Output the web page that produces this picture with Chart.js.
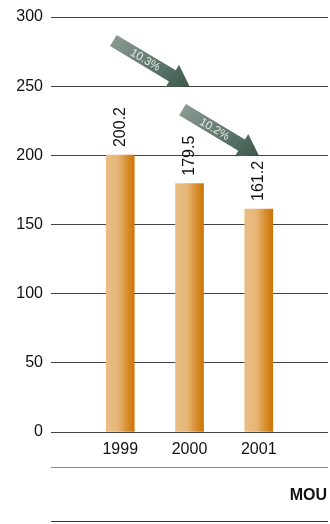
<!DOCTYPE html>
<html>
<head>
<meta charset="utf-8">
<script src="https://cdn.jsdelivr.net/npm/chart.js@4"></script>
<style>
  html, body { margin: 0; padding: 0; background: #fff; }
  #wrap { width: 330px; height: 524px; }
</style>
</head>
<body>
<div id="wrap"><canvas id="mouChart" width="330" height="524"></canvas></div>
<script>
// ── DATA ──────────────────────────────────────────────────────
const years   = ["1999", "2000", "2001"];
const mou     = [200.2, 179.5, 161.2];
const yTicks  = [0, 50, 100, 150, 200, 250, 300];
// drop arrows: from one year to the next, label = % decline
const dropFrom  = [0, 1];
const dropLevel = [250, 200];
const dropText  = ["10.3%", "10.2%"];
const unitLabel = "MOU";

const FONT = "Arial, 'Liberation Sans', sans-serif";

// pad the category axis with an empty slot on each side
const labels = ["", ...years, ""];
const values = [null, ...mou, null];

// light-to-dark orange gradient across each bar
function barFill(ctx) {
  const chart = ctx.chart;
  if (!chart.chartArea || ctx.dataIndex === undefined) return "#dd9a4a";
  const cx = chart.scales.x.getPixelForValue(ctx.dataIndex);
  const g = chart.ctx.createLinearGradient(cx - 14, 0, cx + 14, 0);
  g.addColorStop(0,    "#e9bd83");
  g.addColorStop(0.4,  "#e7b779");
  g.addColorStop(0.75, "#d88d2f");
  g.addColorStop(1,    "#cd7506");
  return g;
}

// rotated value labels above the bars
const valueLabels = {
  id: "valueLabels",
  afterDatasetsDraw(chart) {
    const c = chart.ctx;
    const meta = chart.getDatasetMeta(0);
    c.save();
    c.font = "16px " + FONT;
    c.fillStyle = "#111";
    c.textAlign = "left";
    c.textBaseline = "middle";
    meta.data.forEach((bar, i) => {
      if (values[i] == null) return;
      c.save();
      c.translate(bar.x, bar.y - 8);
      c.rotate(-Math.PI / 2);
      c.fillText(values[i].toFixed(1), 0, 0);
      c.restore();
    });
    c.restore();
  }
};

// grey-green arrows showing the yearly decline
const dropArrows = {
  id: "dropArrows",
  afterDatasetsDraw(chart) {
    const c = chart.ctx;
    const x = chart.scales.x, y = chart.scales.y;
    dropFrom.forEach((i, k) => {
      const x0 = x.getPixelForValue(i + 1 - 0.1), y0 = y.getPixelForValue(dropLevel[k] + 33);
      const x1 = x.getPixelForValue(i + 2),       y1 = y.getPixelForValue(dropLevel[k]);
      const ang = Math.atan2(y1 - y0, x1 - x0);
      const len = Math.hypot(x1 - x0, y1 - y0);
      const head = 20, hw = 6.5, hh = 13;
      c.save();
      c.translate(x0, y0);
      c.rotate(ang);
      const g = c.createLinearGradient(0, -hh, len, hh);
      g.addColorStop(0,   "#8b9c93");
      g.addColorStop(0.5, "#637a70");
      g.addColorStop(1,   "#3a5649");
      c.fillStyle = g;
      c.beginPath();
      c.moveTo(0, -hw);
      c.lineTo(len - head, -hw);
      c.lineTo(len - head, -hh);
      c.lineTo(len, 0);
      c.lineTo(len - head, hh);
      c.lineTo(len - head, hw);
      c.lineTo(0, hw);
      c.closePath();
      c.fill();
      c.font = "11.5px " + FONT;
      c.fillStyle = "#e6ebe8";
      c.textAlign = "center";
      c.textBaseline = "middle";
      c.fillText(dropText[k], len * 0.42, 0.5);
      c.restore();
    });
  }
};

// rules and unit caption under the x axis
const footer = {
  id: "footer",
  afterDraw(chart) {
    const c = chart.ctx;
    const { left, right } = chart.chartArea;
    c.save();
    c.strokeStyle = "#8a8a8a";
    c.lineWidth = 1;
    c.beginPath(); c.moveTo(left, 467.5); c.lineTo(right, 467.5); c.stroke();
    c.strokeStyle = "#333";
    c.beginPath(); c.moveTo(left, 521.5); c.lineTo(right, 521.5); c.stroke();
    c.font = "bold 16px " + FONT;
    c.fillStyle = "#111";
    c.textAlign = "right";
    c.textBaseline = "middle";
    c.fillText(unitLabel, right - 1, 496);
    c.restore();
  }
};

new Chart(document.getElementById("mouChart").getContext("2d"), {
  type: "bar",
  data: {
    labels: labels,
    datasets: [{
      data: values,
      backgroundColor: barFill,
      borderWidth: 0,
      barThickness: 28,
    }],
  },
  options: {
    responsive: false,
    animation: false,
    events: [],
    layout: { padding: { top: 17, right: 2, left: 0, bottom: 0 } },
    plugins: { legend: { display: false }, tooltip: { enabled: false } },
    scales: {
      x: {
        offset: false,
        grid: { display: false, drawTicks: false },
        border: { display: false },
        ticks: { font: { family: FONT, size: 16 }, color: "#111", padding: 8, maxRotation: 0, autoSkip: false },
        afterFit: (s) => { s.height = 92; s.paddingLeft = 0; s.paddingRight = 0; },
      },
      y: {
        min: 0,
        max: 300,
        afterBuildTicks: (s) => { s.ticks = yTicks.map(v => ({ value: v })); },
        grid: { color: "#444", lineWidth: 1, drawTicks: false },
        border: { display: false },
        ticks: { font: { family: FONT, size: 16 }, color: "#111", padding: 8 },
        afterFit: (s) => { s.width = 51; s.paddingTop = 0; s.paddingBottom = 0; },
      },
    },
  },
  plugins: [valueLabels, dropArrows, footer],
});
</script>
</body>
</html>
